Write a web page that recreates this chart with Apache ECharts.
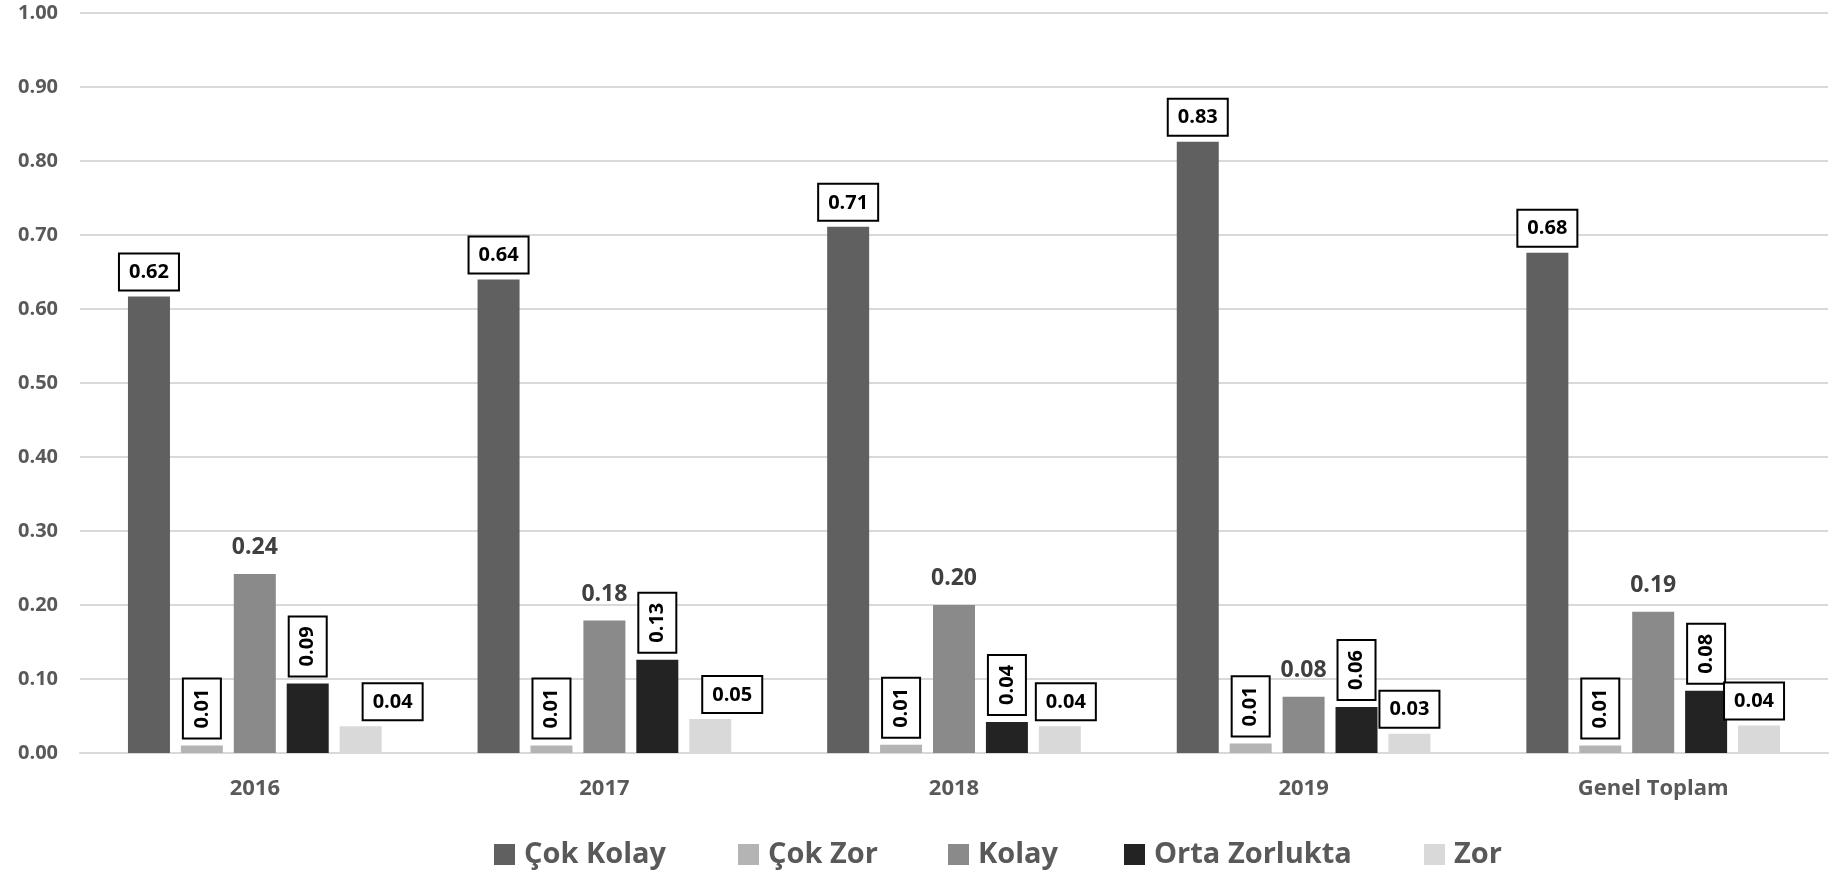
<!DOCTYPE html>
<html>
<head>
<meta charset="utf-8">
<script src="https://cdn.jsdelivr.net/npm/echarts@6/dist/echarts.min.js"></script>
<style>
    html, body { margin: 0; padding: 0; background: #fff; }
    #chart { width: 1830px; height: 871px; }
</style>
</head>
<body>
<div id="chart"></div>
<script>
// kategoriler ve seriler
const categories = ['2016', '2017', '2018', '2019', 'Genel Toplam'];
const cokKolay = [0.617, 0.640, 0.711, 0.826, 0.676];
const cokZor = [0.010, 0.010, 0.011, 0.013, 0.010];
const kolay = [0.242, 0.179, 0.200, 0.076, 0.191];
const ortaZorlukta = [0.094, 0.126, 0.042, 0.062, 0.084];
const zor = [0.036, 0.046, 0.036, 0.026, 0.037];
const yTicks = [0, 0.1, 0.2, 0.3, 0.4, 0.5, 0.6, 0.7, 0.8, 0.9, 1.0];

const FONT = '"Open Sans", Lato, sans-serif';
const fmt = p => p.value.toFixed(2);

// kutulu etiket
const boxLabel = {
    show: true,
    position: 'top',
    distance: 7,
    formatter: fmt,
    fontFamily: FONT,
    fontSize: 20,
    fontWeight: 'bold',
    color: '#000',
    backgroundColor: '#fff',
    borderColor: '#000',
    borderWidth: 2,
    padding: [8, 9, 7, 9]
};
// dikey kutulu etiket
const rotLabel = Object.assign({}, boxLabel, {
    rotate: 90,
    align: 'left',
    verticalAlign: 'middle',
    distance: 8,
    padding: [8, 9, 8, 9]
});

// Zor etiketleri elle kaydirilmis
const zorShift = [32, 22, 6, 0, -5];

let myChart = echarts.init(document.getElementById('chart'));
myChart.setOption({
    animation: false,
    grid: { left: 80, right: 2, top: 13, bottom: 118 },
    // her lejant ogesi ayri konumda
    legend: [
        ['Çok Kolay', 494], ['Çok Zor', 738], ['Kolay', 948], ['Orta Zorlukta', 1124], ['Zor', 1424]
    ].map(([name, left]) => ({
        data: [name],
        left: left,
        top: 840,
        padding: 0,
        itemWidth: 21,
        itemHeight: 21,
        icon: 'rect',
        textStyle: {
            fontFamily: FONT, fontSize: 29, fontWeight: 'bold', color: '#595959',
            lineHeight: 21, padding: [0, 0, 0, 4]
        }
    })),
    xAxis: {
        type: 'category',
        data: categories,
        axisTick: { show: false },
        axisLine: { lineStyle: { color: '#d9d9d9', width: 2 } },
        axisLabel: { margin: 25, fontFamily: FONT, fontSize: 22, fontWeight: 'bold', color: '#595959' }
    },
    yAxis: {
        type: 'value',
        min: 0,
        max: 1,
        interval: 0.1,
        axisLine: { show: false },
        axisTick: { show: false },
        splitLine: { lineStyle: { color: '#d9d9d9', width: 2 } },
        axisLabel: {
            margin: 22,
            fontFamily: FONT, fontSize: 20, fontWeight: 'bold', color: '#595959',
            formatter: v => yTicks.includes(Math.round(v * 10) / 10) ? v.toFixed(2) : ''
        }
    },
    series: [
        {
            name: 'Çok Kolay', type: 'bar', data: cokKolay,
            barWidth: 42, barGap: '26%',
            itemStyle: { color: '#606060' },
            label: boxLabel
        },
        {
            name: 'Çok Zor', type: 'bar', data: cokZor,
            barWidth: 42, barGap: '26%',
            itemStyle: { color: '#b4b4b4' },
            label: rotLabel
        },
        {
            name: 'Kolay', type: 'bar', data: kolay,
            barWidth: 42, barGap: '26%',
            itemStyle: { color: '#8a8a8a' },
            label: {
                show: true, position: 'top', distance: 15, formatter: fmt,
                fontFamily: FONT, fontSize: 23, fontWeight: 'bold', color: '#404040'
            }
        },
        {
            name: 'Orta Zorlukta', type: 'bar', data: ortaZorlukta,
            barWidth: 42, barGap: '26%',
            itemStyle: { color: '#232323' },
            label: rotLabel
        },
        {
            name: 'Zor', type: 'bar',
            data: zor.map((v, i) => ({ value: v, label: { offset: [zorShift[i], 0] } })),
            barWidth: 42, barGap: '26%',
            itemStyle: { color: '#d9d9d9' },
            label: boxLabel
        }
    ]
});
</script>
</body>
</html>
